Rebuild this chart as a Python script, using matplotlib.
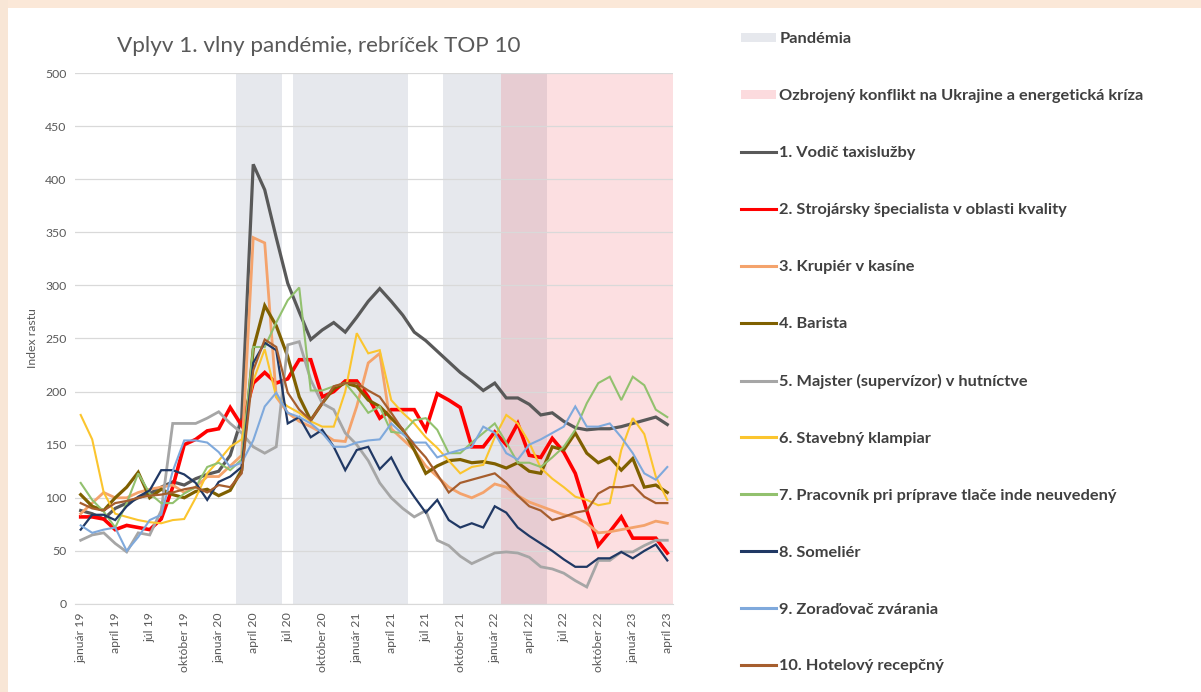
import numpy as np
import matplotlib.pyplot as plt
from matplotlib.lines import Line2D
from matplotlib.patches import Patch, Rectangle

plt.rcParams['font.family'] = ['Lato', 'DejaVu Sans']

# mesiace január 2019 - apríl 2023
mesiace = ["január", "február", "marec", "apríl", "máj", "jún",
           "júl", "august", "september", "október", "november", "december"]
roky = ["19", "20", "21", "22", "23"]
obdobia = [f"{m} {r}" for r in roky for m in mesiace][:52]

# 1 = mesiac v pásme
pandemia = [0, 0, 0, 0, 0, 0, 0, 0, 0, 0, 0, 0, 0, 0, 1, 1, 1, 1, 0, 1,
            1, 1, 1, 1, 1, 1, 1, 1, 1, 0, 0, 0, 1, 1, 1, 1, 1, 1, 1, 1,
            1, 0, 0, 0, 0, 0, 0, 0, 0, 0, 0, 0]
konflikt = [0, 0, 0, 0, 0, 0, 0, 0, 0, 0, 0, 0, 0, 0, 0, 0, 0, 0, 0, 0,
            0, 0, 0, 0, 0, 0, 0, 0, 0, 0, 0, 0, 0, 0, 0, 0, 0, 1, 1, 1,
            1, 1, 1, 1, 1, 1, 1, 1, 1, 1, 1, 1]

vodic_taxi = [88, 85, 80, 90, 95, 100, 104, 110, 115, 112, 118, 122, 125, 140, 175, 414, 390, 345, 302, 275,
              249, 258, 265, 256, 270, 285, 297, 285, 272, 256, 248, 238, 228, 218, 210, 201, 208, 194, 194, 188,
              178, 180, 172, 166, 164, 165, 165, 167, 170, 173, 176, 169]
strojarsky = [82, 82, 80, 70, 74, 72, 70, 80, 110, 150, 155, 163, 165, 185, 168, 208, 218, 208, 212, 230,
              230, 195, 200, 210, 210, 195, 175, 183, 183, 183, 164, 198, 192, 185, 148, 148, 162, 150, 170, 140,
              138, 156, 143, 123, 88, 55, 68, 82, 62, 62, 62, 48]
krupier = [85, 95, 105, 100, 100, 105, 108, 110, 112, 105, 110, 120, 120, 130, 140, 345, 340, 195, 180, 172,
           167, 161, 154, 153, 186, 227, 236, 165, 155, 145, 130, 120, 110, 104, 100, 105, 113, 110, 102, 96,
           92, 88, 84, 82, 76, 67, 68, 70, 72, 74, 78, 76]
barista = [103, 92, 88, 100, 110, 124, 100, 108, 103, 100, 106, 108, 102, 107, 126, 240, 281, 262, 233, 195,
           173, 189, 203, 208, 205, 192, 186, 175, 164, 145, 123, 130, 135, 136, 133, 134, 132, 128, 133, 125,
           123, 148, 145, 161, 142, 133, 138, 126, 137, 110, 112, 105]
majster = [60, 65, 67, 57, 49, 67, 65, 88, 170, 170, 170, 175, 181, 170, 161, 148, 142, 148, 244, 247,
           211, 189, 183, 161, 150, 135, 114, 100, 90, 82, 88, 60, 55, 45, 38, 43, 48, 49, 48, 44,
           35, 33, 29, 22, 16, 41, 41, 49, 49, 55, 60, 60]
klampiar = [178, 155, 105, 85, 82, 79, 77, 76, 79, 80, 100, 123, 135, 148, 155, 210, 240, 195, 186, 180,
            172, 167, 167, 200, 255, 236, 239, 192, 180, 170, 157, 147, 135, 123, 129, 131, 157, 178, 170, 152,
            128, 118, 110, 101, 98, 93, 95, 145, 175, 160, 120, 98]
pracovnik = [114, 98, 87, 72, 95, 123, 104, 95, 95, 104, 110, 129, 133, 126, 136, 242, 242, 265, 286, 298,
             201, 201, 205, 208, 195, 180, 186, 162, 161, 173, 175, 164, 142, 142, 152, 161, 170, 152, 133, 133,
             129, 138, 148, 164, 189, 208, 214, 192, 214, 206, 183, 176]
somelier = [70, 84, 84, 79, 92, 101, 107, 126, 126, 122, 114, 98, 115, 120, 129, 227, 246, 239, 170, 176,
            157, 164, 148, 126, 145, 148, 127, 138, 117, 101, 86, 98, 79, 72, 76, 72, 92, 86, 72, 64,
            57, 50, 42, 35, 35, 43, 43, 49, 43, 50, 56, 41]
zoradovac = [74, 67, 70, 72, 50, 63, 79, 84, 125, 154, 154, 152, 143, 129, 133, 154, 186, 199, 180, 176,
             170, 161, 148, 148, 152, 154, 155, 170, 160, 152, 152, 138, 142, 145, 148, 167, 161, 142, 136, 150,
             155, 161, 167, 186, 167, 167, 170, 157, 142, 123, 117, 129]
recepcny = [95, 90, 88, 95, 97, 100, 102, 103, 105, 108, 110, 105, 112, 110, 123, 220, 249, 242, 199, 183,
            173, 189, 205, 208, 208, 201, 195, 180, 164, 150, 138, 122, 105, 114, 117, 120, 123, 114, 102, 92,
            88, 79, 82, 86, 88, 104, 110, 110, 112, 101, 95, 95]

serie = [
    ("1. Vodič taxislužby", vodic_taxi, "#595959", 2.3),
    ("2. Strojársky špecialista v oblasti kvality", strojarsky, "#ff0000", 2.6),
    ("3. Krupiér v kasíne", krupier, "#f4a36c", 2.0),
    ("4. Barista", barista, "#7f6000", 2.3),
    ("5. Majster (supervízor) v hutníctve", majster, "#a6a6a6", 2.0),
    ("6. Stavebný klampiar", klampiar, "#fbc52e", 1.5),
    ("7. Pracovník pri príprave tlače inde neuvedený", pracovnik, "#92c16e", 1.5),
    ("8. Someliér", somelier, "#203864", 1.6),
    ("9. Zoraďovač zvárania", zoradovac, "#7fa9dc", 1.5),
    ("10. Hotelový recepčný", recepcny, "#a65e2e", 1.6),
]

grey_band = "#e6e8ed"
pink_band = (0.95, 0.24, 0.27, 0.16)
txt_col = "#595959"

fig = plt.figure(figsize=(12.01, 6.92), dpi=100)
ax = fig.add_axes([0.0624, 0.1272, 0.498, 0.7673])

x = np.arange(len(obdobia))
ax.bar(x, np.array(pandemia) * 500, width=1.0, color=grey_band, zorder=0)
ax.bar(x, np.array(konflikt) * 500, width=1.0, color=pink_band, zorder=0.5)

for name, vals, col, lw in serie:
    ax.plot(x, vals, color=col, lw=lw, zorder=3, solid_joinstyle='miter')

ax.set_xlim(-0.5, len(obdobia) - 0.5)
ax.set_ylim(0, 500)
ax.set_yticks(range(0, 501, 50))
ax.yaxis.grid(True, color="#d9d9d9", lw=0.9, zorder=1)
ax.set_axisbelow(True)
ax.set_xticks(x[::3])
ax.set_xticklabels(obdobia[::3], rotation=90)
ax.tick_params(axis='both', length=0, labelsize=8.8, labelcolor=txt_col, pad=6)
for s in ["top", "right", "left"]:
    ax.spines[s].set_visible(False)
ax.spines["bottom"].set_color("#d9d9d9")
ax.set_ylabel("Index rastu", fontsize=8.8, color=txt_col, labelpad=5)

fig.text(0.265, 0.934, "Vplyv 1. vlny pandémie, rebríček TOP 10", ha="center", va="center",
         fontsize=16.2, color=txt_col)

handles = [Patch(facecolor=grey_band, edgecolor="none"),
           Patch(facecolor=(0.99, 0.86, 0.87), edgecolor="none")]
labels = ["Pandémia", "Ozbrojený konflikt na Ukrajine a energetická kríza"]
for name, vals, col, lw in serie:
    handles.append(Line2D([], [], color=col, lw=2.2))
    labels.append(name)
leg = fig.legend(handles, labels, loc="upper left", bbox_to_anchor=(0.605, 0.975),
                 frameon=False, labelspacing=2.62, handlelength=2.13,
                 handleheight=0.5, handletextpad=0.18, prop={'weight': 'bold', 'size': 11.8})
for t in leg.get_texts():
    t.set_color("#404040")

# okraj snímky
fig.patches.append(Rectangle((0, 0.988), 1, 0.012, transform=fig.transFigure,
                             facecolor="#fbe8d8", edgecolor="none", zorder=-1))
fig.patches.append(Rectangle((0, 0), 0.007, 1, transform=fig.transFigure,
                             facecolor="#f8e6d6", edgecolor="none", zorder=-1))

fig.savefig("out.png", dpi=100)
